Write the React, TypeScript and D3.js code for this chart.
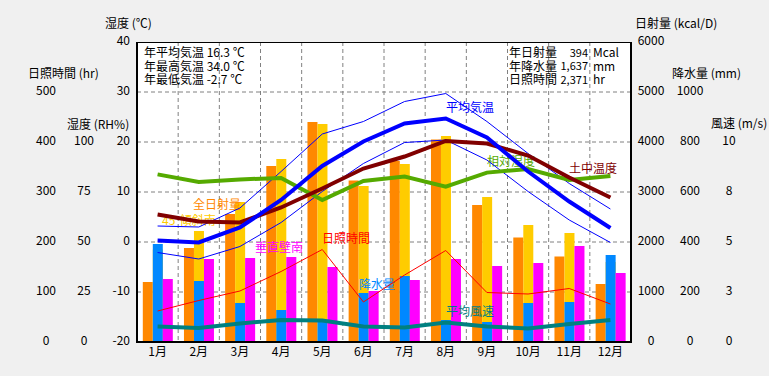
import React from "react";
import * as d3 from "d3";

const months = ["1月","2月","3月","4月","5月","6月","7月","8月","9月","10月","11月","12月"];
const radiation = [1200,1880,2560,3520,4400,3230,3620,4050,2740,2090,1710,1160];
const tilt45 = [1850,2220,2800,3660,4360,3120,3560,4120,2900,2340,2180,1600];
const wallSouth = [1260,1660,1680,1700,1500,1020,1240,1660,1520,1580,1920,1380];
const precip = [392,244,156,128,80,196,264,88,80,156,160,348];
const avgTemp = [0.3,-0.1,2.9,8.4,15.2,20.1,23.7,24.7,20.9,14.1,8.1,2.8];
const maxTemp = [3.2,3.0,6.8,14.1,21.6,24.1,28.1,29.7,24.1,17.7,11.7,6.6];
const minTemp = [-2.1,-3.4,-0.9,3.9,10.1,15.7,19.9,20.4,16.4,10.1,4.4,-0.1];
const soilTemp = [5.5,4.1,3.9,6.9,10.7,14.7,17.1,20.2,19.7,17.3,12.9,8.9];
const humidity = [83.8,80,81.3,82,71,80.5,82.7,77.7,84.7,86.5,81,83];
const sunshine = [62,83,102,141,185,80,134,183,99,96,107,76];
const wind = [0.77,0.7,0.93,1.1,1.07,0.77,0.72,0.98,0.77,0.68,0.9,1.1];

const tempTicks = [-20,-10,0,10,20,30,40];
const rhTicks = [0,25,50,75,100];
const sunTicks = [0,100,200,300,400,500];
const radTicks = [0,1000,2000,3000,4000,5000,6000];
const precTicks = [0,200,400,600,800,1000];
const windTicks = [0,2.5,5,7.5,10];

const infoLeft = ["年平均気温 16.3 ℃","年最高気温 34.0 ℃","年最低気温 -2.7 ℃"];
const infoRightLabels = ["年日射量","年降水量","日照時間"];
const infoRightValues = ["394","1,637","2,371"];
const infoRightUnits = ["Mcal","mm","hr"];

const FONT = "'Noto Sans CJK JP', 'Noto Sans', sans-serif";

export default function App() {
  const L = 137, R = 631, T = 42, B = 342;
  const x = d3.scaleBand<string>().domain(months).range([L, R]).padding(0);
  const bw = x.bandwidth();
  const slot = d3.scaleBand<string>().domain(["a","b","c"]).range([5.8, 35.8]).padding(0);
  const sw = slot.bandwidth();
  const cx = (i: number) => (x(months[i]) as number) + bw / 2;

  const yT = d3.scaleLinear().domain([-20, 40]).range([B, T]);
  const yRH = d3.scaleLinear().domain([0, 100]).range([B, 142]);
  const ySun = d3.scaleLinear().domain([0, 500]).range([B, 92]);
  const yRad = d3.scaleLinear().domain([0, 6000]).range([B, T]);
  const yPrec = d3.scaleLinear().domain([0, 1000]).range([B, 92]);
  const yWind = d3.scaleLinear().domain([0, 10]).range([B, 142]);

  const mkLine = (arr: number[], sc: d3.ScaleLinear<number, number>) =>
    d3.line<number>().x((_, i) => cx(i)).y((d) => sc(d))(arr) as string;

  const bars = (arr: number[], sc: d3.ScaleLinear<number, number>, s: string, color: string, key: string) =>
    arr.map((v, i) => (
      <rect key={key + i} x={(x(months[i]) as number) + (slot(s) as number)} y={sc(v)} width={sw} height={B - sc(v)} fill={color} />
    ));

  const gridColor = "#808080";
  const fs = 12;

  return (
    <svg width={769} height={376} style={{ position: "absolute", left: 0, top: 0 }} fontFamily={FONT} fontSize={fs}>
      <rect x={0} y={0} width={769} height={376} fill="#f0f0f0" />
      <rect x={L} y={T} width={R - L} height={B - T} fill="#ffffff" />
      {/* grid */}
      {tempTicks.slice(1, -1).map((t) => (
        <line key={"h" + t} x1={L} x2={R} y1={yT(t)} y2={yT(t)} stroke={gridColor} strokeDasharray="4,3" />
      ))}
      {months.slice(1).map((m) => (
        <line key={"v" + m} x1={x(m)} x2={x(m)} y1={T} y2={B} stroke={gridColor} strokeDasharray="4,3" />
      ))}
      {/* bars */}
      {bars(radiation, yRad, "a", "#ff8800", "rad")}
      {bars(tilt45, yRad, "b", "#ffcc00", "tilt")}
      {bars(precip, yPrec, "b", "#0088ff", "prec")}
      {bars(wallSouth, yRad, "c", "#ff00ff", "wall")}
      {/* series labels */}
      <g dominantBaseline="middle">
        <text x={193} y={206} fill="#ff8800">全日射量</text>
        <text x={162} y={222} fill="#ffcc00">45°傾斜南</text>
        <text x={255} y={249} fill="#ff00ff">垂直壁南</text>
        <text x={322} y={240} fill="#ff0000">日照時間</text>
        <text x={359} y={286} fill="#0088ff">降水量</text>
        <text x={446} y={313} fill="#008080">平均風速</text>
        <text x={446} y={109} fill="#0000ff">平均気温</text>
        <text x={487} y={163} fill="#55aa00">相対湿度</text>
        <text x={569} y={170} fill="#800000">土中温度</text>
      </g>
      {/* lines */}
      <path d={mkLine(sunshine, ySun)} fill="none" stroke="#ff0000" strokeWidth={1} />
      <path d={mkLine(maxTemp, yT)} fill="none" stroke="#0000ff" strokeWidth={1} />
      <path d={mkLine(minTemp, yT)} fill="none" stroke="#0000ff" strokeWidth={1} />
      <path d={mkLine(humidity, yRH)} fill="none" stroke="#55aa00" strokeWidth={4} />
      <path d={mkLine(soilTemp, yT)} fill="none" stroke="#800000" strokeWidth={4} />
      <path d={mkLine(avgTemp, yT)} fill="none" stroke="#0000ff" strokeWidth={4} />
      <path d={mkLine(wind, yWind)} fill="none" stroke="#008080" strokeWidth={4} />
      {/* border */}
      <line x1={L} x2={R} y1={T + 0.5} y2={T + 0.5} stroke="#000" strokeWidth={1} />
      <line x1={L} x2={L} y1={T} y2={B + 1} stroke="#000" strokeWidth={2} />
      <line x1={R} x2={R} y1={T} y2={B + 1} stroke="#000" strokeWidth={2} />
      <line x1={L - 1} x2={R + 1} y1={B} y2={B} stroke="#000" strokeWidth={2} />
      {/* info boxes */}
      {infoLeft.map((s, i) => (
        <text key={"il" + i} x={144} y={54 + i * 13.5} dominantBaseline="middle" fill="#000">{s}</text>
      ))}
      {infoRightLabels.map((s, i) => (
        <g key={"ir" + i} dominantBaseline="middle" fill="#000">
          <text x={509} y={54 + i * 13.5}>{s}</text>
          <text x={588} y={54 + i * 13.5} textAnchor="end" fontSize={11}>{infoRightValues[i]}</text>
          <text x={593} y={54 + i * 13.5}>{infoRightUnits[i]}</text>
        </g>
      ))}
      {/* month labels */}
      {months.map((m, i) => (
        <text key={"m" + m} x={cx(i)} y={353} textAnchor="middle" dominantBaseline="middle" fill="#000">{m}</text>
      ))}
      {/* left axes */}
      <g dominantBaseline="middle" fill="#000">
        {tempTicks.map((t) => (
          <text key={"t" + t} x={130} y={yT(t)} textAnchor="end">{t}</text>
        ))}
        {rhTicks.map((t) => (
          <text key={"rh" + t} x={84} y={yRH(t)} textAnchor="middle">{t}</text>
        ))}
        {sunTicks.map((t) => (
          <text key={"s" + t} x={46} y={ySun(t)} textAnchor="middle">{t}</text>
        ))}
        <text x={105} y={25}>湿度 (℃)</text>
        <text x={28} y={75}>日照時間 (hr)</text>
        <text x={67} y={126}>湿度 (RH%)</text>
      </g>
      {/* right axes */}
      <g dominantBaseline="middle" fill="#000">
        {radTicks.map((t) => (
          <text key={"r" + t} x={651} y={yRad(t)} textAnchor="middle">{t}</text>
        ))}
        {precTicks.map((t) => (
          <text key={"p" + t} x={690} y={yPrec(t)} textAnchor="middle">{t}</text>
        ))}
        {windTicks.map((t) => (
          <text key={"w" + t} x={729} y={yWind(t)} textAnchor="middle">{Math.round(t)}</text>
        ))}
        <text x={635} y={25}>日射量 (kcal/D)</text>
        <text x={672} y={75}>降水量 (mm)</text>
        <text x={711} y={125}>風速 (m/s)</text>
      </g>
    </svg>
  );
}
